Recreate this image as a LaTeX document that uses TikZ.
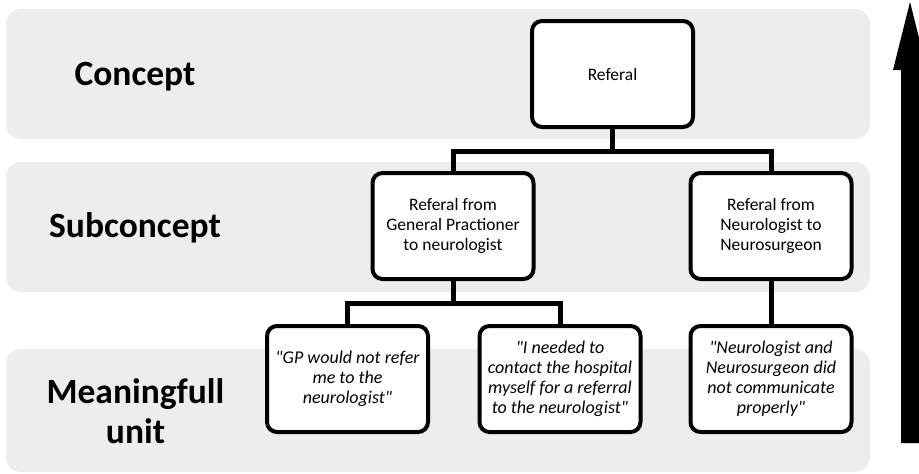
\documentclass[tikz,border=0pt]{standalone}
\usepackage{fontspec}
\setmainfont{Carlito}
\newfontfamily\plainq{Carlito}
\definecolor{bandgray}{HTML}{EDEDED}
\begin{document}
\begin{tikzpicture}[x=1pt,y=-1pt,
  band/.style={fill=bandgray,rounded corners=15pt},
  level/.style={font=\fontsize{35.5}{40}\selectfont\bfseries,anchor=base},
  card/.style={draw=black,fill=white,line width=4pt,rounded corners=10pt,
    minimum width=161pt,minimum height=106pt,align=center,inner sep=2pt,
    font=\fontsize{17.5}{20}\selectfont},
  quote/.style={card,font=\plainq\fontsize{18}{20}\selectfont\itshape},
  link/.style={line width=5pt,line join=miter}]
\useasboundingbox (0,0) rectangle (919,474);
% bands
\fill[band] (6,9) rectangle (870,139);
\fill[band] (6,162) rectangle (870,292);
\fill[band] (6,349) rectangle (870,472);
% level labels
\node[level] (lc) at (135,85) {Concept};
\node[level] (ls) at (135,237) {Subconcept};
\node[level] (lm) at (135.5,403) {Meaningfull};
\node[level] (lu) at (135.5,443) {unit};
% boxes
\node[card] (ref) at (612.5,74) {Referal};
\node[card] (gp) at (453,226) {Referal from\\General Practioner\\to neurologist};
\node[card] (ns) at (771,226) {Referal from\\Neurologist to\\Neurosurgeon};
\node[quote] (q1) at (347.5,379) {"GP would not refer\\me to the\\neurologist"};
\node[quote] (q2) at (560,379) {"I needed to\\contact the hospital\\myself for a referral\\to the neurologist"};
\node[quote] (q3) at (771,379) {"Neurologist and\\Neurosurgeon did\\not communicate\\properly"};
% connectors
\coordinate (j1) at (612.5,151);
\coordinate (j2) at (453,303);
\draw[link] (ref.south) -- (j1);
\draw[link] (gp.north) |- (j1) -| (ns.north);
\draw[link] (gp.south) -- (j2);
\draw[link] (q1.north) |- (j2) -| (q2.north);
\draw[link] (ns.south) -- (q3.north);
% big arrow
\fill[black] (901,443) -- (901,70) -- (893,70) -- (910,2) -- (927,70) -- (919,70) -- (919,443) -- cycle;
\end{tikzpicture}
\end{document}
